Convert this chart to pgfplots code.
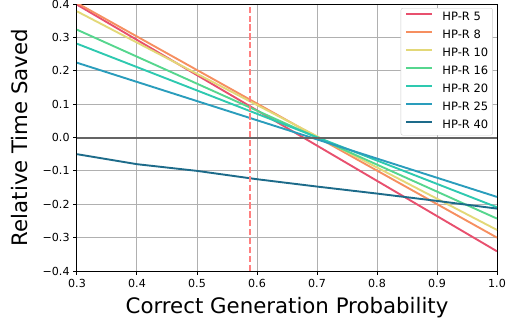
\documentclass[border=0pt]{standalone}
\usepackage{pgfplots}
\pgfplotsset{compat=1.18}
\usepackage{fontspec}
\setmainfont{DejaVu Sans}
\definecolor{hpA}{RGB}{232,80,110}
\definecolor{hpB}{RGB}{246,143,96}
\definecolor{hpC}{RGB}{227,216,120}
\definecolor{hpD}{RGB}{86,214,142}
\definecolor{hpE}{RGB}{46,201,176}
\definecolor{hpF}{RGB}{42,157,188}
\definecolor{hpG}{RGB}{29,107,138}
\definecolor{gridc}{RGB}{176,176,176}
\definecolor{vlinec}{RGB}{255,128,128}
\definecolor{zlinec}{RGB}{100,100,100}
\definecolor{legc}{RGB}{204,204,204}
\pgfplotscreateplotcyclelist{hplist}{
  {draw=hpA, line width=1.9bp},
  {draw=hpB, line width=1.9bp},
  {draw=hpC, line width=1.9bp},
  {draw=hpD, line width=1.9bp},
  {draw=hpE, line width=1.9bp},
  {draw=hpF, line width=1.9bp},
  {draw=hpG, line width=1.9bp},
  {draw=zlinec, line width=2bp},
  {draw=vlinec, line width=1.9bp, dash pattern=on 6.2bp off 2.7bp}
}
\begin{document}
\begin{tikzpicture}
\useasboundingbox (-77bp,-51bp) rectangle (436bp,271bp);
\begin{axis}[
  scale only axis,
  width=420bp, height=267bp,
  xmin=0.3, xmax=1.0, ymin=-0.4, ymax=0.4,
  xtick={0.3,0.4,0.5,0.6,0.7,0.8,0.9,1.0},
  xticklabels={0.3,0.4,0.5,0.6,0.7,0.8,0.9,1.0},
  ytick={-0.4,-0.3,-0.2,-0.1,0,0.1,0.2,0.3,0.4},
  yticklabels={−0.4,−0.3,−0.2,−0.1,0.0,0.1,0.2,0.3,0.4},
  tick label style={font=\fontsize{11.1bp}{13bp}\selectfont, text=black},
  xticklabel style={yshift=-1bp},
  label style={font=\fontsize{21.3bp}{24bp}\selectfont},
  xlabel={Correct Generation Probability},
  ylabel={Relative Time Saved},
  xlabel style={yshift=-3bp},
  ylabel style={yshift=8bp},
  grid=major,
  major grid style={draw=gridc, line width=1bp},
  axis line style={draw=black, line width=1bp},
  tick style={draw=black, line width=1bp},
  tick align=outside,
  major tick length=3.9bp,
  xtick pos=bottom, ytick pos=left,
  cycle list name=hplist,
  legend cell align=left,
  legend style={
    at={(0.99,0.985)}, anchor=north east,
    draw=legc, rounded corners=2bp, fill=white,
    font=\fontsize{11.5bp}{13bp}\selectfont,
    inner xsep=4.4bp, inner ysep=4bp,
    row sep=7bp, column sep=9bp,
    nodes={inner sep=0pt, text height=8.5bp, text depth=2.5bp},
  },
  legend image code/.code={\draw[#1, line width=2.1bp] (0bp,3.5bp) -- (26bp,3.5bp);},
]
\addplot coordinates {(0.3,0.398) (1.0,-0.341)};
\addlegendentry{HP-R 5}
\addplot coordinates {(0.3,0.403) (1.0,-0.300)};
\addlegendentry{HP-R 8}
\addplot coordinates {(0.3,0.378) (1.0,-0.277)};
\addlegendentry{HP-R 10}
\addplot coordinates {(0.3,0.323) (1.0,-0.243)};
\addlegendentry{HP-R 16}
\addplot coordinates {(0.3,0.281) (1.0,-0.209)};
\addlegendentry{HP-R 20}
\addplot coordinates {(0.3,0.224) (1.0,-0.178)};
\addlegendentry{HP-R 25}
\addplot coordinates {(0.3,-0.050) (0.4,-0.080) (0.5,-0.100) (0.6,-0.125) (0.7,-0.147) (0.8,-0.168) (0.9,-0.190) (1.0,-0.213)};
\addlegendentry{HP-R 40}
\addplot coordinates {(0.3,0) (1.0,0)};
\addplot coordinates {(0.588,-0.4) (0.588,0.4)};
\end{axis}
\end{tikzpicture}
\end{document}
